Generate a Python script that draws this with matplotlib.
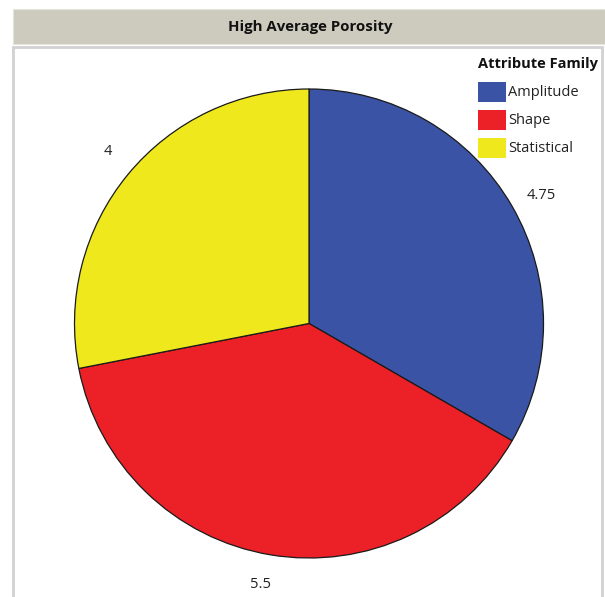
import numpy as np
import matplotlib
matplotlib.use("Agg")
import matplotlib.pyplot as plt
from matplotlib.patches import Rectangle

# Attribute family counts for the high average porosity group
families = ["Amplitude", "Shape", "Statistical"]
values = [4.75, 5.5, 4]
value_labels = ["4.75", "5.5", "4"]
colors = ["#3a53a4", "#ec2127", "#efe81c"]

title = "High Average Porosity"
legend_title = "Attribute Family"

W, H = 605, 597
fig = plt.figure(figsize=(W / 100, H / 100), dpi=100)
fig.patch.set_facecolor("white")
plt.rcParams["font.family"] = ["Open Sans", "DejaVu Sans"]


def fx(px):
    return px / W


def fy(py):
    return 1 - py / H


# Title band
fig.patches.append(Rectangle((fx(13), fy(44)), fx(W - 13), (44 - 9) / H,
                             transform=fig.transFigure, facecolor="#cccbbd",
                             edgecolor="#e4e4dc", linewidth=0.8, zorder=0))
fig.text(fx(310), fy(27), title, ha="center", va="center",
         fontsize=10.8, fontweight="bold", color="#111111")

# Panel frame
fig.patches.append(Rectangle((fx(13), fy(H + 5)), fx(602 - 13), (H + 5 - 47) / H,
                             transform=fig.transFigure, facecolor="none",
                             edgecolor="#d2d2d2", linewidth=2.0, zorder=0))

# Pie
cx, cy, r = 309, 323.5, 234.5
ax = fig.add_axes([fx(cx - r), fy(cy + r), 2 * r / W, 2 * r / H])
ax.axis("off")

wedges, _ = ax.pie(values, colors=colors, startangle=90, counterclock=False,
                   radius=1,
                   wedgeprops=dict(edgecolor="#1a1a1a", linewidth=0.9))
ax.set_xlim(-1, 1)
ax.set_ylim(-1, 1)
ax.set_aspect("equal")

# Value labels just outside each wedge
for w, lab in zip(wedges, value_labels):
    ang = np.deg2rad((w.theta1 + w.theta2) / 2 - 1.0)
    ax.text(1.13 * np.cos(ang), 1.13 * np.sin(ang), lab, ha="center",
            va="center", fontsize=10.5, color="#222222", clip_on=False)

# Legend: title, then one swatch + label per family
lx, ly0, sw_w, sw_h, step = 478, 82, 28, 20, 28
fig.text(fx(lx), fy(64), legend_title, ha="left", va="center",
         fontsize=10.5, fontweight="bold", color="#111111")
for i, (fam, col) in enumerate(zip(families, colors)):
    top = ly0 + i * step
    fig.patches.append(Rectangle((fx(lx), fy(top + sw_h)), sw_w / W, sw_h / H,
                                 transform=fig.transFigure, facecolor=col,
                                 edgecolor="none"))
    fig.text(fx(lx + sw_w + 2), fy(top + sw_h / 2 + 0.5), fam, ha="left",
             va="center", fontsize=10.5, color="#222222")

fig.savefig("out.png", dpi=100)
